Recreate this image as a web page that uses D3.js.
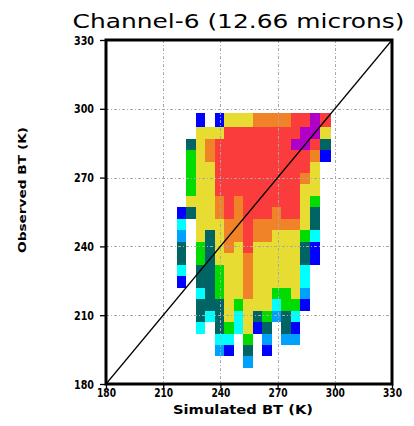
<!DOCTYPE html>
<html>
<head>
<meta charset="utf-8">
<script src="https://cdn.jsdelivr.net/npm/d3@7/dist/d3.min.js"></script>
<style>
  html, body { margin: 0; padding: 0; background: #ffffff; }
  svg { display: block; }
  text { fill: #000; }
</style>
</head>
<body>
<svg id="chart" width="414" height="426"></svg>
<script>
// Observed vs simulated brightness temperature, channel 6 (12.66 microns)
const title = "Channel-6 (12.66 microns)";
const xTitle = "Simulated BT (K)";
const yTitle = "Observed BT (K)";
const axisDomain = [180, 330];
const tickValues = [180, 210, 240, 270, 300, 330];

// Bin edges (K) of the 2-D histogram
const xEdges = [217, 222, 227, 232, 237, 242, 247, 252, 257, 262, 267, 272, 277, 282, 287, 292, 298];
const yEdges = [187, 192, 197, 202, 207, 212, 217, 222, 227, 232, 237, 242, 247, 252, 257, 262, 267, 272, 277, 282, 287, 292, 298];

// Count class of each bin, one string per row from the warmest observed bin down,
// one character per simulated bin ('.' = no samples)
const levelCodes = ["c", "l", "b", "t", "g", "y", "o", "r", "m"];
const levelColors = ["#00ffff", "#00a0ff", "#0000ff", "#006464", "#00dc00", "#e6dc32", "#f08228", "#fa3c3c", "#b000c8"];
const cellRows = [
  "..b.byyyoooorrmr",
  "..yyyrrrrrrrrmmy",
  ".tyorrrrrrrrmmrt",
  ".gyorrrrrrrrrrob",
  ".gyyrrrrrrrrrry.",
  ".gyyrrrrrrrrroy.",
  ".gyyrrrrrrrrryy.",
  ".yyyororrrrrryg.",
  "btyyororrrorryt.",
  "c.yyyooroooooyt.",
  "l.ytyoorooyyygc.",
  "t.gtyoyryyyyytb.",
  "t.gtyyyoyyyyytb.",
  "c.ttgyyoyyyyyc..",
  "b.ttgyyoyyyyyc..",
  "..ctgyyoyyggyl..",
  "..tttygyyycggb..",
  "..tctycytgltc...",
  "..c.tgcybt.tb...",
  "....cc.g.l.ll...",
  "....lb.t.b......",
  ".......l........"
];

const svg = d3.select("#chart");
const plot = { left: 106, right: 392, top: 40, bottom: 384 };

const x = d3.scaleLinear().domain(axisDomain).range([plot.left, plot.right]);
const y = d3.scaleLinear().domain(axisDomain).range([plot.bottom, plot.top]);
const color = d3.scaleOrdinal().domain(levelCodes).range(levelColors);

// Flatten the rows into cells
const nRows = cellRows.length;
const cells = [];
cellRows.forEach((row, r) => {
  const yi = nRows - 1 - r;
  row.split("").forEach((code, c) => {
    if (code === ".") return;
    cells.push({ x0: xEdges[c], x1: xEdges[c + 1], y0: yEdges[yi], y1: yEdges[yi + 1], code });
  });
});

svg.append("g")
  .selectAll("rect")
  .data(cells)
  .join("rect")
  .attr("x", d => x(d.x0))
  .attr("y", d => y(d.y1))
  .attr("width", d => x(d.x1) - x(d.x0))
  .attr("height", d => y(d.y0) - y(d.y1))
  .attr("fill", d => color(d.code))
  .attr("shape-rendering", "crispEdges");

// Dashed reference grid over the histogram
const inner = tickValues.slice(1, -1);
const grid = svg.append("g")
  .attr("stroke", "#a8a8a8")
  .attr("stroke-width", 1)
  .attr("stroke-dasharray", "3,2,1,2");
grid.selectAll("line.v").data(inner).join("line")
  .attr("class", "v")
  .attr("x1", d => Math.round(x(d)) + 0.5).attr("x2", d => Math.round(x(d)) + 0.5)
  .attr("y1", plot.top).attr("y2", plot.bottom);
grid.selectAll("line.h").data(inner).join("line")
  .attr("class", "h")
  .attr("y1", d => Math.round(y(d)) + 0.5).attr("y2", d => Math.round(y(d)) + 0.5)
  .attr("x1", plot.left).attr("x2", plot.right);

// One-to-one line
svg.append("line")
  .attr("x1", x(axisDomain[0])).attr("y1", y(axisDomain[0]))
  .attr("x2", x(axisDomain[1])).attr("y2", y(axisDomain[1]))
  .attr("stroke", "#000").attr("stroke-width", 1.2);

// Axes
const tickFont = "'DejaVu Sans', sans-serif";
const xAxis = svg.append("g")
  .attr("transform", `translate(0,${plot.bottom})`)
  .call(d3.axisBottom(x).tickValues(tickValues).tickSize(4).tickPadding(0).tickFormat(d3.format("d")));
const yAxis = svg.append("g")
  .attr("transform", `translate(${plot.left},0)`)
  .call(d3.axisLeft(y).tickValues(tickValues).tickSize(6).tickPadding(6).tickFormat(d3.format("d")));
[xAxis, yAxis].forEach(g => {
  g.select(".domain").remove();
  g.selectAll(".tick line").attr("stroke", "#000").attr("stroke-width", 1.3);
  g.selectAll(".tick text")
    .attr("font-family", tickFont)
    .attr("font-size", 13)
    .attr("font-weight", "bold")
    .attr("fill", "#000")
    .attr("textLength", 20)
    .attr("lengthAdjust", "spacingAndGlyphs");
});
xAxis.selectAll(".tick text").attr("textLength", 19);

// Heavy frame
svg.append("rect")
  .attr("x", plot.left).attr("y", plot.top)
  .attr("width", plot.right - plot.left).attr("height", plot.bottom - plot.top)
  .attr("fill", "none").attr("stroke", "#000").attr("stroke-width", 3);

// Titles
svg.append("text")
  .attr("x", 238.5).attr("y", 28)
  .attr("text-anchor", "middle")
  .attr("font-family", tickFont)
  .attr("font-size", 20)
  .attr("textLength", 332)
  .attr("lengthAdjust", "spacingAndGlyphs")
  .text(title);

svg.append("text")
  .attr("x", 243).attr("y", 414)
  .attr("text-anchor", "middle")
  .attr("font-family", tickFont)
  .attr("font-size", 13)
  .attr("font-weight", "bold")
  .attr("textLength", 140)
  .attr("lengthAdjust", "spacingAndGlyphs")
  .text(xTitle);

svg.append("text")
  .attr("transform", "translate(26,190) rotate(-90)")
  .attr("text-anchor", "middle")
  .attr("font-family", tickFont)
  .attr("font-size", 11)
  .attr("font-weight", "bold")
  .attr("textLength", 126)
  .attr("lengthAdjust", "spacingAndGlyphs")
  .text(yTitle);
</script>
</body>
</html>
